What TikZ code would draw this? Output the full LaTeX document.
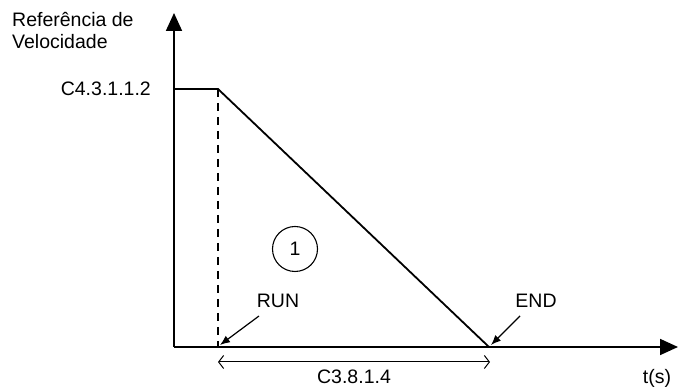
\documentclass[tikz,border=0pt]{standalone}
\usepackage{fontspec}
\setmainfont{Liberation Sans}
\usepackage{tikz}
\usetikzlibrary{arrows.meta,positioning,calc}

\begin{document}
\begin{tikzpicture}[
		x=1pt, y=1pt,
		every node/.style={font=\fontsize{19.5}{22}\selectfont, inner sep=0pt},
		axis/.style={line width=1.8pt, -{Triangle[length=18pt,width=16pt]}},
		curve/.style={line width=1.8pt},
		pointer/.style={line width=1.2pt, -{Latex[length=10pt,width=8pt]}},
		span/.style={line width=1pt, {Straight Barb[length=5pt,width=13pt]}-{Straight Barb[length=5pt,width=13pt]}},
		numcircle/.style={circle, draw, line width=1.1pt, minimum size=45pt}
		]
		
		\useasboundingbox (0,0) rectangle (678,387);
		
		% axes
		\coordinate (orig) at (174,40);
		\coordinate (ytop) at (174,374);
		\coordinate (xend) at (678,40);
		\draw[axis] (orig) -- (ytop);
		\draw[axis] (orig) -- (xend);
		
		% speed profile
		\coordinate (hold) at (174,298);
		\coordinate (knee) at (218,298);
		\coordinate (run) at (218,40);
		\coordinate (stop) at (489,40);
		\draw[curve] (hold) -- (knee) -- (stop);
		\draw[line width=1.1pt, dash pattern=on 8pt off 6pt] (knee) -- (run);
		
		% labels
		\node[align=left, anchor=north west] (ref) at (12,375) {Referência de\\Velocidade};
		\node[left=23pt of hold] (lvl) {C4.3.1.1.2};
		\node[numcircle] (one) at (295,138) {1};
		\node (runlbl) at (278,86) {RUN};
		\node (endlbl) at (536,86) {END};
		\node (tlbl) at (657,9) {t(s)};
		
		\draw[pointer] ($(runlbl.south)+(-19,-8)$) -- ($(run)+(2,2)$);
		\draw[pointer] ($(endlbl.south)+(-16,-8)$) -- ($(stop)+(2,2)$);
		
		% ramp time
		\coordinate (spanl) at (218,25);
		\coordinate (spanr) at (490,25);
		\draw[span] (spanl) -- (spanr);
		\node[below=8pt of $(spanl)!0.5!(spanr)$] (tramp) {C3.8.1.4};
		
	\end{tikzpicture}
\end{document}
